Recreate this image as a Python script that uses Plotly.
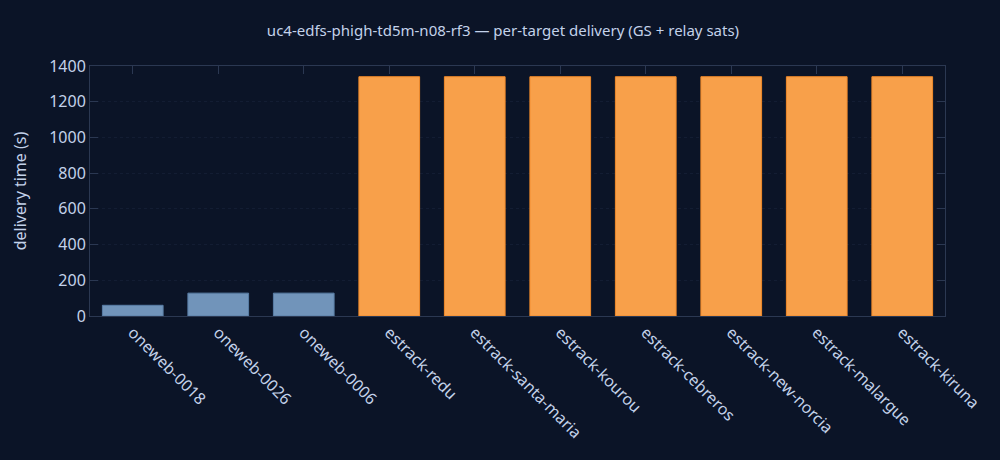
import plotly.graph_objects as go

targets = ["oneweb-0018", "oneweb-0026", "oneweb-0006", "estrack-redu",
           "estrack-santa-maria", "estrack-kourou", "estrack-cebreros",
           "estrack-new-norcia", "estrack-malargue", "estrack-kiruna"]
delivery_s = [60, 128, 128, 1340, 1340, 1340, 1340, 1340, 1340, 1340]
kinds = ["relay", "relay", "relay", "gs", "gs", "gs", "gs", "gs", "gs", "gs"]

fill = {"relay": "#7194ba", "gs": "#f8a04a"}
edge = {"relay": "#5a7ea6", "gs": "#f28a2a"}

bg = "#0b1427"
txt = "#c3d2ea"
axcol = "#2b3852"

fig = go.Figure(go.Bar(
    x=targets,
    y=delivery_s,
    marker=dict(color=[fill[k] for k in kinds],
                line=dict(color=[edge[k] for k in kinds], width=1)),
))

fig.update_layout(
    title=dict(text="uc4-edfs-phigh-td5m-n08-rf3 — per-target delivery (GS + relay sats)",
               x=0.503, y=0.945, font=dict(size=15, color=txt)),
    font=dict(family="Noto Sans", size=16, color=txt),
    paper_bgcolor=bg,
    plot_bgcolor=bg,
    width=1000, height=460,
    margin=dict(l=90, r=55, t=66, b=144),
    bargap=0.29,
    showlegend=False,
)
fig.update_xaxes(tickangle=45, showline=True, linecolor=axcol, mirror="ticks",
                 ticks="inside", ticklen=8, tickcolor=axcol, layer="below traces",
                 showgrid=False, tickfont=dict(size=16, color=txt))
fig.update_yaxes(title=dict(text="delivery time (s)", font=dict(size=16, color=txt),
                            standoff=18),
                 range=[0, 1400], dtick=200, showline=True, linecolor=axcol,
                 mirror="ticks", ticks="inside", ticklen=8, tickcolor=axcol,
                 layer="below traces", showgrid=True, gridcolor="#131d33",
                 griddash="dot", zeroline=False, tickfont=dict(size=16, color=txt))

# the page has a default body margin; drop it so the chart fills the window
fig.write_html("out.html", config={"displayModeBar": False},
               post_script="document.body.style.margin='0';")
